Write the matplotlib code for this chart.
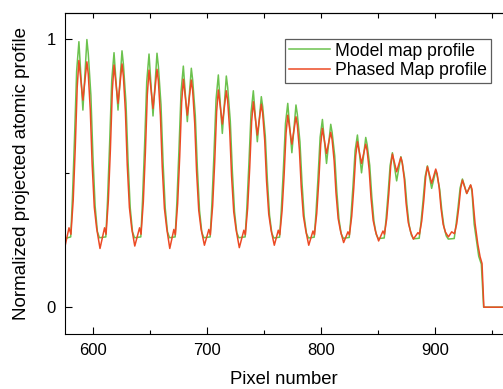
import matplotlib
matplotlib.use("Agg")
import matplotlib.pyplot as plt
from matplotlib.ticker import MultipleLocator

plt.rcParams['font.family'] = ['Liberation Sans', 'DejaVu Sans']

# points, one period (pair of peaks) per line
model_x = [
    575.3, 577.0, 580.4,
    581.9, 583.7, 585.6, 587.6, 591.1, 594.6, 595.8, 598.1, 599.9, 601.8, 603.8, 605.6, 611.2,
    612.7, 614.5, 616.4, 618.4, 621.9, 625.4, 626.6, 628.9, 630.7, 632.6, 634.6, 636.4, 641.9,
    643.4, 645.2, 647.1, 649.1, 652.6, 656.1, 657.3, 659.6, 661.4, 663.3, 665.3, 667.1, 672.0,
    673.5, 675.3, 677.2, 679.2, 682.7, 686.2, 687.4, 689.7, 691.5, 693.4, 695.4, 697.2, 702.7,
    704.2, 706.0, 707.9, 709.9, 713.4, 716.9, 718.1, 720.4, 722.2, 724.1, 726.1, 727.9, 733.4,
    734.9, 736.7, 738.6, 740.6, 744.1, 747.6, 748.8, 751.1, 752.9, 754.8, 756.8, 758.6, 763.6,
    765.1, 766.9, 768.8, 770.8, 774.4, 778.0, 779.2, 781.5, 783.3, 785.2, 787.2, 789.0, 794.0,
    795.5, 797.3, 799.2, 801.2, 804.8, 808.5, 809.7, 812.0, 813.8, 815.7, 817.7, 819.5, 824.7,
    826.2, 828.0, 829.9, 831.9, 835.5, 839.2, 840.4, 842.7, 844.5, 846.4, 848.4, 850.2, 855.4,
    856.9, 858.7, 860.6, 862.6, 866.3, 870.0, 871.2, 873.5, 875.3, 877.2, 879.2, 881.0, 886.1,
    887.6, 889.4, 891.3, 893.3, 897.0, 900.6, 901.8, 904.1, 905.9, 907.8, 909.8, 911.6, 916.8,
    918.3, 920.1, 922.0, 924.0, 927.8, 931.2, 932.4, 934.3, 938.3, 940.6, 942.6, 970.0,
]
model_y = [
    0.245, 0.258, 0.262,
    0.406, 0.625, 0.880, 0.990, 0.735, 0.998, 0.946, 0.791, 0.563, 0.378, 0.282, 0.259, 0.262,
    0.398, 0.605, 0.846, 0.949, 0.735, 0.956, 0.907, 0.761, 0.545, 0.371, 0.281, 0.259, 0.262,
    0.397, 0.602, 0.841, 0.944, 0.713, 0.947, 0.899, 0.755, 0.542, 0.370, 0.281, 0.259, 0.262,
    0.388, 0.580, 0.803, 0.899, 0.692, 0.891, 0.847, 0.714, 0.519, 0.361, 0.279, 0.259, 0.262,
    0.381, 0.563, 0.775, 0.866, 0.648, 0.862, 0.820, 0.693, 0.507, 0.356, 0.278, 0.259, 0.262,
    0.369, 0.534, 0.725, 0.807, 0.617, 0.785, 0.748, 0.638, 0.475, 0.344, 0.276, 0.258, 0.261,
    0.360, 0.510, 0.685, 0.760, 0.576, 0.754, 0.719, 0.616, 0.463, 0.339, 0.275, 0.258, 0.261,
    0.348, 0.480, 0.634, 0.700, 0.536, 0.682, 0.652, 0.564, 0.433, 0.328, 0.273, 0.257, 0.260,
    0.336, 0.451, 0.585, 0.642, 0.501, 0.633, 0.607, 0.529, 0.413, 0.320, 0.271, 0.256, 0.258,
    0.323, 0.418, 0.529, 0.576, 0.471, 0.561, 0.540, 0.477, 0.383, 0.308, 0.269, 0.255, 0.257,
    0.313, 0.394, 0.487, 0.527, 0.443, 0.509, 0.492, 0.439, 0.362, 0.300, 0.266, 0.254, 0.256,
    0.304, 0.369, 0.445, 0.478, 0.424, 0.455, 0.430, 0.310, 0.190, 0.160, 0.000, 0.000,
]

phased_x = [
    575.3, 578.9, 580.6,
    582.6, 584.4, 586.1, 587.6, 591.1, 594.6, 595.8, 597.6, 599.2, 601.1, 603.1, 606.1, 610.1, 611.4,
    613.4, 615.2, 616.9, 618.4, 621.9, 625.4, 626.6, 628.4, 630.0, 631.9, 633.9, 636.6, 640.8, 642.1,
    644.1, 645.9, 647.6, 649.1, 652.6, 656.1, 657.3, 659.1, 660.7, 662.6, 664.6, 667.3, 670.9, 672.2,
    674.2, 676.0, 677.7, 679.2, 682.7, 686.2, 687.4, 689.2, 690.8, 692.7, 694.7, 697.7, 701.6, 702.9,
    704.9, 706.7, 708.4, 709.9, 713.4, 716.9, 718.1, 719.9, 721.5, 723.4, 725.4, 728.3, 732.3, 733.6,
    735.6, 737.4, 739.1, 740.6, 744.1, 747.6, 748.8, 750.6, 752.2, 754.1, 756.1, 759.0, 762.5, 763.8,
    765.8, 767.6, 769.3, 770.8, 774.4, 778.0, 779.2, 781.0, 782.6, 784.5, 786.5, 789.2, 792.9, 794.2,
    796.2, 798.0, 799.7, 801.2, 804.8, 808.5, 809.7, 811.5, 813.1, 815.0, 817.0, 819.8, 823.6, 824.9,
    826.9, 828.7, 830.4, 831.9, 835.5, 839.2, 840.4, 842.2, 843.8, 845.7, 847.7, 850.5, 854.3, 855.6,
    857.6, 859.4, 861.1, 862.6, 866.3, 870.0, 871.2, 873.0, 874.6, 876.5, 878.5, 881.0, 885.0, 886.3,
    888.3, 890.1, 891.8, 893.3, 897.0, 900.6, 901.8, 903.6, 905.2, 907.1, 909.1, 911.7, 914.6, 917.0,
    919.0, 920.8, 922.5, 924.0, 927.8, 931.2, 932.4, 935.1, 937.5, 939.5, 941.2, 942.8, 970.0,
]
phased_y = [
    0.225, 0.296, 0.272,
    0.400, 0.595, 0.820, 0.920, 0.772, 0.915, 0.870, 0.734, 0.534, 0.373, 0.296, 0.219, 0.296, 0.272,
    0.397, 0.587, 0.808, 0.903, 0.760, 0.907, 0.862, 0.729, 0.531, 0.372, 0.295, 0.228, 0.296, 0.272,
    0.393, 0.577, 0.792, 0.884, 0.741, 0.887, 0.844, 0.714, 0.523, 0.369, 0.295, 0.219, 0.290, 0.270,
    0.386, 0.560, 0.763, 0.850, 0.716, 0.847, 0.807, 0.685, 0.507, 0.362, 0.293, 0.231, 0.290, 0.270,
    0.378, 0.540, 0.729, 0.810, 0.683, 0.807, 0.769, 0.657, 0.490, 0.356, 0.291, 0.222, 0.287, 0.270,
    0.369, 0.518, 0.692, 0.766, 0.642, 0.757, 0.723, 0.621, 0.470, 0.348, 0.289, 0.231, 0.287, 0.270,
    0.359, 0.493, 0.649, 0.716, 0.608, 0.710, 0.679, 0.587, 0.450, 0.340, 0.288, 0.231, 0.284, 0.270,
    0.349, 0.469, 0.607, 0.667, 0.573, 0.652, 0.625, 0.545, 0.427, 0.331, 0.285, 0.241, 0.281, 0.270,
    0.339, 0.444, 0.565, 0.617, 0.536, 0.608, 0.584, 0.513, 0.409, 0.324, 0.284, 0.247, 0.284, 0.272,
    0.330, 0.421, 0.526, 0.571, 0.505, 0.559, 0.539, 0.478, 0.388, 0.316, 0.282, 0.254, 0.278, 0.272,
    0.321, 0.397, 0.486, 0.524, 0.462, 0.515, 0.498, 0.446, 0.370, 0.309, 0.280, 0.262, 0.281, 0.274,
    0.311, 0.372, 0.443, 0.474, 0.424, 0.456, 0.440, 0.312, 0.235, 0.188, 0.163, 0.000, 0.000,
]

fig = plt.figure(figsize=(5.03, 3.89), dpi=100)
ax = fig.add_axes([65 / 503, 55 / 389, 438 / 503, 321 / 389])

ax.plot(model_x, model_y, color='#6cc24e', lw=1.1, label='Model map profile')
ax.plot(phased_x, phased_y, color='#ec4a24', lw=1.1, label='Phased Map profile')

ax.set_xlim(575.4, 959.6)
ax.set_ylim(-0.1, 1.097)
ax.spines['right'].set_visible(False)

ax.set_xticks([600, 700, 800, 900])
ax.xaxis.set_minor_locator(MultipleLocator(50))
ax.set_yticks([0, 1])
ax.set_yticklabels(['0', '1'])
ax.yaxis.set_minor_locator(MultipleLocator(0.5))
ax.tick_params(which='major', direction='in', length=4.8, width=0.8, labelsize=12, pad=6.5)
ax.tick_params(which='minor', direction='in', length=3, width=0.8)

top = ax.secondary_xaxis('top')
top.set_xticks([600, 650, 700, 750, 800, 850, 900, 950])
top.tick_params(direction='in', length=3.5, width=0.8, labeltop=False)

ax.set_xlabel('Pixel number', fontsize=13.3, labelpad=9)
ax.set_ylabel('Normalized projected atomic profile', fontsize=13.5, labelpad=12)

leg = ax.legend(loc='upper left', bbox_to_anchor=(285 / 503, 1 - 39 / 389),
                bbox_transform=fig.transFigure, fontsize=12.7, frameon=True,
                fancybox=False, handlelength=2.35, handletextpad=0.3,
                labelspacing=0.15, borderpad=0.2, borderaxespad=0)
leg.get_frame().set_edgecolor('#333333')
leg.get_frame().set_linewidth(0.9)

fig.savefig('out.png', dpi=100)
